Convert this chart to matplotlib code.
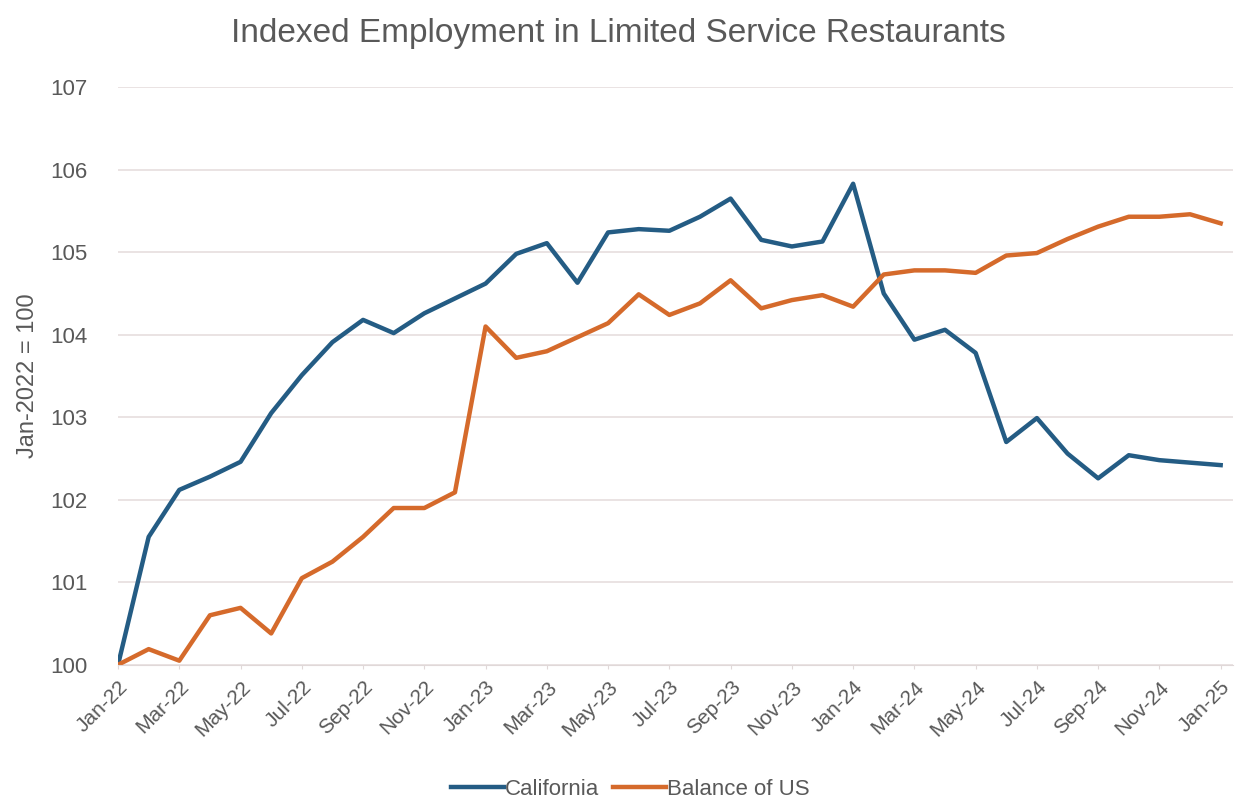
import numpy as np
import matplotlib.pyplot as plt

plt.rcParams['font.family'] = ['Liberation Sans', 'DejaVu Sans']

months = ['Jan-22', 'Feb-22', 'Mar-22', 'Apr-22', 'May-22', 'Jun-22', 'Jul-22', 'Aug-22',
          'Sep-22', 'Oct-22', 'Nov-22', 'Dec-22', 'Jan-23', 'Feb-23', 'Mar-23', 'Apr-23',
          'May-23', 'Jun-23', 'Jul-23', 'Aug-23', 'Sep-23', 'Oct-23', 'Nov-23', 'Dec-23',
          'Jan-24', 'Feb-24', 'Mar-24', 'Apr-24', 'May-24', 'Jun-24', 'Jul-24', 'Aug-24',
          'Sep-24', 'Oct-24', 'Nov-24', 'Dec-24', 'Jan-25']

california = [100.0, 101.55, 102.12, 102.28, 102.46, 103.05, 103.51, 103.91,
              104.18, 104.02, 104.26, 104.44, 104.62, 104.98, 105.11, 104.63,
              105.24, 105.28, 105.26, 105.43, 105.65, 105.15, 105.07, 105.13,
              105.83, 104.50, 103.94, 104.06, 103.78, 102.70, 102.99, 102.56,
              102.26, 102.54, 102.48, 102.45, 102.42]

balance_us = [100.0, 100.19, 100.05, 100.60, 100.69, 100.38, 101.05, 101.25,
              101.55, 101.90, 101.90, 102.09, 104.10, 103.72, 103.80, 103.97,
              104.14, 104.49, 104.24, 104.38, 104.66, 104.32, 104.42, 104.48,
              104.34, 104.73, 104.78, 104.78, 104.75, 104.96, 104.99, 105.16,
              105.31, 105.43, 105.43, 105.46, 105.35]

grey = '#595959'
x = np.arange(len(months))

fig = plt.figure(figsize=(12.36, 8), dpi=100)
ax = fig.add_axes([0.0955, 0.169, 0.902, 0.722])

ax.plot(x, california, color='#245C84', lw=3.2, label='California', solid_joinstyle='round')
ax.plot(x, balance_us, color='#D56A2B', lw=3.2, label='Balance of US', solid_joinstyle='round')

ax.set_xlim(0, 36.4)
ax.set_ylim(100, 107)
ax.set_yticks(range(100, 108))
ax.set_xticks(x[::2])
ax.set_xticklabels(months[::2], rotation=45, ha='right', rotation_mode='anchor')
ax.tick_params(axis='x', labelsize=15, colors=grey, length=3, color='#E0D8D8', pad=6)
ax.tick_params(axis='y', labelsize=16, colors=grey, length=0, pad=22)
ax.grid(axis='y', color='#E6DEDE', lw=1.2)
ax.set_axisbelow(True)
for s in ['top', 'right', 'left']:
    ax.spines[s].set_visible(False)
ax.spines['bottom'].set_color('#E0D8D8')

ax.set_ylabel('Jan-2022 = 100', fontsize=17, color=grey, labelpad=8)
fig.suptitle('Indexed Employment in Limited Service Restaurants', fontsize=24, color=grey, y=0.978)

fig.legend(loc='lower center', bbox_to_anchor=(0.51, -0.025), ncol=2, frameon=False,
           fontsize=16, labelcolor=grey, handlelength=2.4, handletextpad=0.05, columnspacing=0.6)

fig.savefig('out.png', dpi=100)
